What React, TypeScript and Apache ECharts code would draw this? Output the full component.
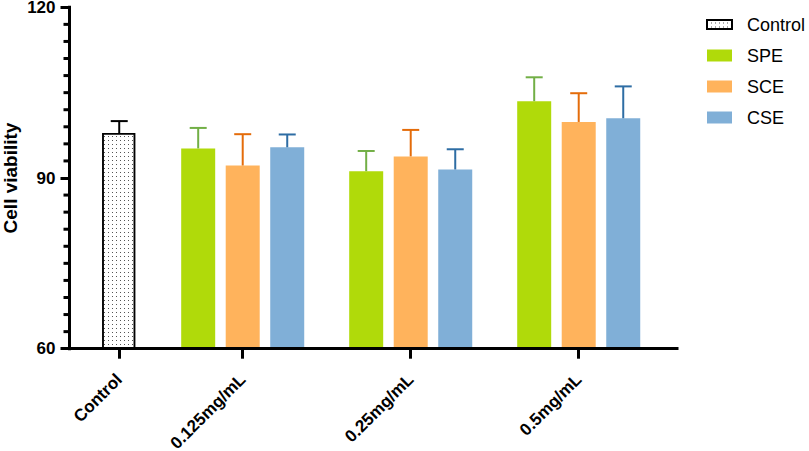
import React, { useEffect, useRef } from "react";
import * as echarts from "echarts";

// ---- data ----
const controlName = "Control";
const concentrations = ["0.125mg/mL", "0.25mg/mL", "0.5mg/mL"];
const seriesNames = ["SPE", "SCE", "CSE"];
const controlMean = 97.9;
const controlSD = 2.1;
const speMean = [95.2, 91.2, 103.5];
const speSD = [3.6, 3.55, 4.2];
const sceMean = [92.2, 93.8, 99.85];
const sceSD = [5.5, 4.65, 5.05];
const cseMean = [95.4, 91.5, 100.5];
const cseSD = [2.25, 3.55, 5.6];
const yTicks = [60, 90, 120];
const yMinorStep = 3;

// ---- layout (x axis units: one group = 1) ----
const X_MIN = -0.031;
const X_MAX = 3.585;
const CONTROL_X = 0.265;
const GROUP_X = [1, 2, 3];
const OFFSETS = [-0.265, 0, 0.265];

const FONT = "'Liberation Sans', Arial, sans-serif";
const barColors = ["#B0DA0A", "#FFB35C", "#80AFD7"];
const errColors = ["#72AF46", "#E46C0A", "#2E6DA4"];

export default function App() {
  const ref = useRef<HTMLDivElement>(null);
  useEffect(() => {
    if (!ref.current) return;
    const chart = echarts.init(ref.current, null, { renderer: "svg" });
    const tickValues = [CONTROL_X, ...GROUP_X];
    const tickNames = [controlName, ...concentrations];
    const nameFor = (v: number) => {
      let best = 0;
      tickValues.forEach((t, i) => {
        if (Math.abs(t - v) < Math.abs(tickValues[best] - v)) best = i;
      });
      return tickNames[best];
    };
    const means = [speMean, sceMean, cseMean];
    const sds = [speSD, sceSD, cseSD];

    const yMin = yTicks[0];
    const yMax = yTicks[yTicks.length - 1];
    const yMinorData: number[][] = [];
    for (let v = yMin; v <= yMax + 1e-9; v += yMinorStep) {
      const val = Math.round(v * 1000) / 1000;
      if (!yTicks.some((t) => Math.abs(t - val) < 1e-9)) yMinorData.push([X_MIN, val]);
    }

    const errRender = (color: string) => (params: any, api: any) => {
      const x = api.value(0);
      const lo = api.value(1);
      const hi = api.value(2);
      const p0 = api.coord([x, lo]);
      const p1 = api.coord([x, hi]);
      const half = 8.5;
      return {
        type: "group",
        children: [
          { type: "line", shape: { x1: p0[0], y1: p0[1], x2: p1[0], y2: p1[1] }, style: { stroke: color, lineWidth: 2 } },
          { type: "line", shape: { x1: p1[0] - half, y1: p1[1], x2: p1[0] + half, y2: p1[1] }, style: { stroke: color, lineWidth: 2 } },
        ],
      };
    };

    const series: any[] = [];
    series.push({
      name: controlName,
      type: "bar",
      barWidth: 33,
      barGap: "-100%",
      data: [[CONTROL_X, controlMean]],
      itemStyle: {
        color: "#ffffff",
        borderColor: "#000",
        borderWidth: 1.5,
        decal: {
          symbol: "rect",
          symbolSize: 1,
          dashArrayX: [1, 3],
          dashArrayY: [1, 3],
          color: "#555",
          backgroundColor: "#fff",
        },
      },
      z: 2,
    });
    seriesNames.forEach((n, si) => {
      series.push({
        name: n,
        type: "bar",
        barWidth: 34,
        barGap: "-100%",
        data: GROUP_X.map((g, gi) => [g + OFFSETS[si], means[si][gi]]),
        itemStyle: { color: barColors[si] },
        z: 2,
      });
    });
    series.push({
      type: "custom",
      name: "ctrlErr",
      renderItem: errRender("#000"),
      encode: { x: 0, y: [1, 2] },
      data: [[CONTROL_X, controlMean, controlMean + controlSD]],
      z: 3,
      clip: false,
    });
    seriesNames.forEach((n, si) => {
      series.push({
        type: "custom",
        name: n + "Err",
        renderItem: errRender(errColors[si]),
        encode: { x: 0, y: [1, 2] },
        data: GROUP_X.map((g, gi) => [g + OFFSETS[si], means[si][gi], means[si][gi] + sds[si][gi]]),
        z: 3,
        clip: false,
      });
    });
    // minor y-axis ticks, placed through the axis scale
    series.push({
      type: "custom",
      name: "yMinor",
      silent: true,
      clip: false,
      z: 20,
      encode: { x: 0, y: 1 },
      data: yMinorData,
      renderItem: (params: any, api: any) => {
        const p = api.coord([api.value(0), api.value(1)]);
        return {
          type: "line",
          shape: { x1: p[0] - 6, y1: p[1], x2: p[0], y2: p[1] },
          style: { stroke: "#000", lineWidth: 3 },
        };
      },
    });

    chart.setOption({
      animation: false,
      grid: { left: 69.5, top: 7.3, width: 607.5, height: 341.4, outerBoundsMode: "none", containLabel: false },
      legend: {
        orient: "vertical",
        left: 706,
        top: 14.5,
        padding: 0,
        itemWidth: 25,
        itemHeight: 12,
        itemGap: 11,
        icon: "rect",
        data: [
          { name: controlName, icon: "path://M0,0H25V9H0Z" },
          ...seriesNames,
        ],
        textStyle: { fontFamily: FONT, fontSize: 18, color: "#000", padding: [0, 0, 0, 10], lineHeight: 20 },
      },
      xAxis: {
        type: "value",
        min: X_MIN,
        max: X_MAX,
        z: 10,
        splitLine: { show: false },
        axisLine: { show: true, onZero: false, lineStyle: { color: "#000", width: 3, cap: "square" } },
        axisTick: { show: true, customValues: tickValues, length: 10, lineStyle: { color: "#000", width: 3 } },
        axisLabel: {
          customValues: tickValues,
          formatter: (v: number) => nameFor(v),
          rotate: 45,
          margin: 28,
          lineHeight: 10,
          fontFamily: FONT,
          fontWeight: "bold",
          fontSize: 17,
          color: "#000",
        },
      },
      yAxis: {
        type: "value",
        min: yMin,
        max: yMax,
        interval: yTicks[1] - yTicks[0],
        z: 10,
        name: "Cell viability",
        nameLocation: "middle",
        nameGap: 50,
        nameMoveOverlap: false,
        nameTextStyle: { fontFamily: FONT, fontWeight: "bold", fontSize: 19, color: "#000", lineHeight: 19 },
        splitLine: { show: false },
        axisLine: { show: true, onZero: false, lineStyle: { color: "#000", width: 3, cap: "square" } },
        axisTick: { show: true, inside: false, length: 9, lineStyle: { color: "#000", width: 3 } },
        axisLabel: { margin: 14, fontFamily: FONT, fontWeight: "bold", fontSize: 17, lineHeight: 12, color: "#000" },
      },
      series,
    });
    return () => chart.dispose();
  }, []);
  return <div ref={ref} style={{ position: "fixed", left: 0, top: 0, width: 809, height: 451, background: "#fff" }} />;
}
